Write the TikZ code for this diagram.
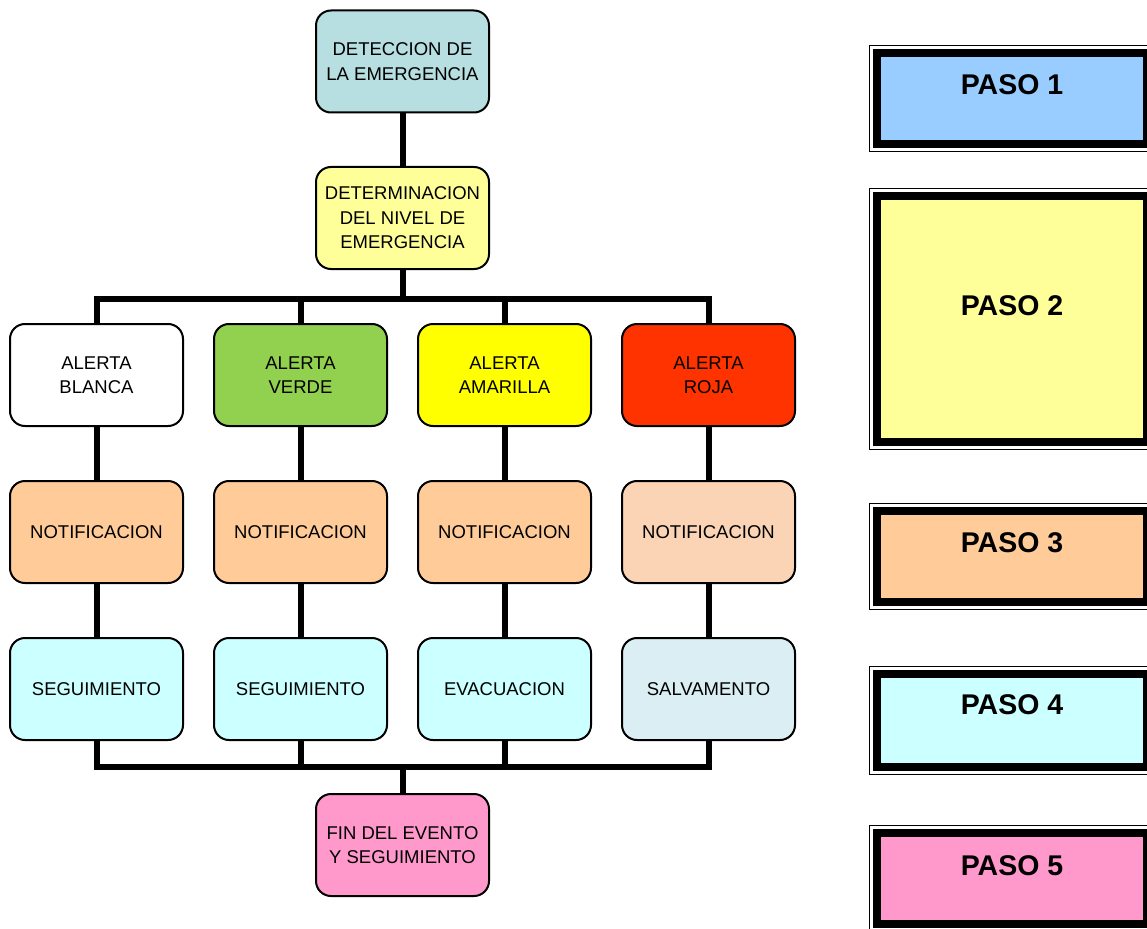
\documentclass[tikz,border=0pt]{standalone}
\usepackage{fontspec}
\setmainfont{Liberation Sans}
\definecolor{detc}{HTML}{B7DEE0}
\definecolor{nivc}{HTML}{FFFF99}
\definecolor{verdec}{HTML}{92D050}
\definecolor{amac}{HTML}{FFFF00}
\definecolor{rojac}{HTML}{FF3300}
\definecolor{notc}{HTML}{FFCC99}
\definecolor{notd}{HTML}{FAD4B4}
\definecolor{segc}{HTML}{CCFFFF}
\definecolor{salvc}{HTML}{DAEEF3}
\definecolor{finc}{HTML}{FF99CC}
\definecolor{pasoa}{HTML}{99CCFF}
\newcommand{\mypaso}[6]{%
  \fill[#3] (881,#1) rectangle (1143,#2);
  \draw[line width=8pt] (877,#1-4) rectangle (1147,#2+4);
  \draw[line width=1.3pt] (869.5,#1-11.5) rectangle (1160,#2+11.5);
  \node[pasotxt] (#6) at (1012,#5) {#4};
}
\begin{document}
\begin{tikzpicture}[x=1pt,y=-1pt,
  box/.style={draw=black, line width=2pt, rounded corners=15pt, minimum width=173pt, minimum height=102pt, align=center, inner sep=0pt, font=\fontsize{18.5}{24.5}\selectfont, text=black},
  conn/.style={line width=6pt, draw=black, line join=miter},
  pasotxt/.style={font=\bfseries\fontsize{28.5}{34}\selectfont, inner sep=0pt, text=black}]
\useasboundingbox (0,0) rectangle (1147,928);
\clip (0,0) rectangle (1147,928);
% flow nodes
\node[box, fill=detc] (det) at (402.5,61.5) {DETECCION DE\\LA EMERGENCIA};
\node[box, fill=nivc] (niv) at (402.5,218) {DETERMINACION\\DEL NIVEL DE\\EMERGENCIA};
\node[box, fill=white] (a1) at (96.5,375) {ALERTA\\BLANCA};
\node[box, fill=verdec] (a2) at (300.5,375) {ALERTA\\VERDE};
\node[box, fill=amac] (a3) at (504.5,375) {ALERTA\\AMARILLA};
\node[box, fill=rojac] (a4) at (708.5,375) {ALERTA\\ROJA};
\node[box, fill=notc] (n1) at (96.5,532) {NOTIFICACION};
\node[box, fill=notc] (n2) at (300.5,532) {NOTIFICACION};
\node[box, fill=notc] (n3) at (504.5,532) {NOTIFICACION};
\node[box, fill=notd] (n4) at (708.5,532) {NOTIFICACION};
\node[box, fill=segc] (s1) at (96.5,689) {SEGUIMIENTO};
\node[box, fill=segc] (s2) at (300.5,689) {SEGUIMIENTO};
\node[box, fill=segc] (s3) at (504.5,689) {EVACUACION};
\node[box, fill=salvc] (s4) at (708.5,689) {SALVAMENTO};
\node[box, fill=finc] (fin) at (402.5,845) {FIN DEL EVENTO\\Y SEGUIMIENTO};
% connectors
\coordinate (bt) at (402.5,299);
\coordinate (bb) at (402.5,767);
\draw[conn] (det.south) -- (niv.north);
\draw[conn] (niv.south) -- (bt);
\draw[conn] (a1.north) |- (bt) -| (a4.north);
\draw[conn] (a2.north) -- (a2.north |- bt);
\draw[conn] (a3.north) -- (a3.north |- bt);
\foreach \i in {1,2,3,4}{
  \draw[conn] (a\i.south) -- (n\i.north);
  \draw[conn] (n\i.south) -- (s\i.north);
}
\draw[conn] (s1.south) |- (bb) -| (s4.south);
\draw[conn] (s2.south) -- (s2.south |- bb);
\draw[conn] (s3.south) -- (s3.south |- bb);
\draw[conn] (bb) -- (fin.north);
% legend
\mypaso{57}{140}{pasoa}{PASO 1}{85}{p1}
\mypaso{200}{438}{nivc}{PASO 2}{306}{p2}
\mypaso{515}{598}{notc}{PASO 3}{543}{p3}
\mypaso{678}{763}{segc}{PASO 4}{705}{p4}
\mypaso{837}{920}{finc}{PASO 5}{866}{p5}
\end{tikzpicture}
\end{document}
